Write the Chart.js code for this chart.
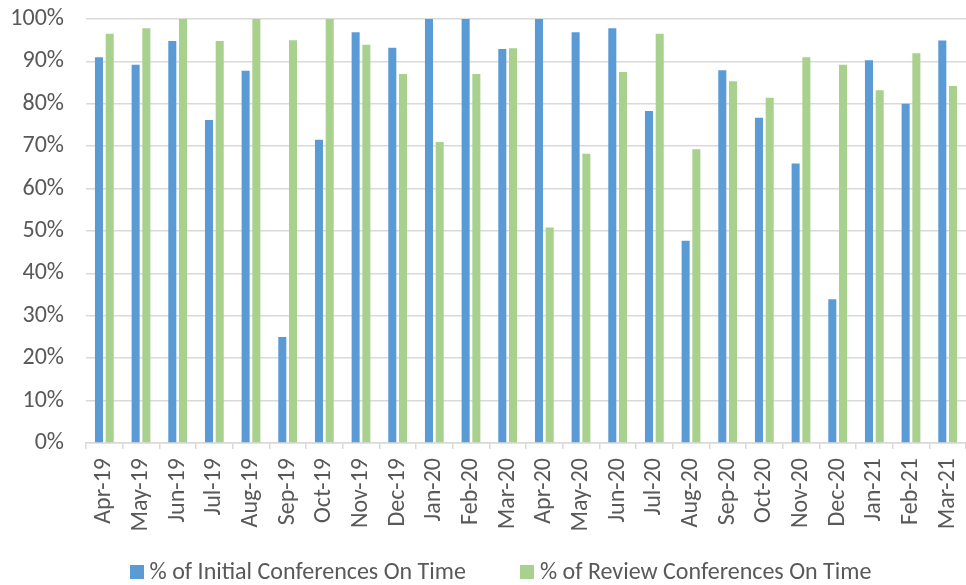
<!DOCTYPE html>
<html><head><meta charset="utf-8">
<script src="https://cdn.jsdelivr.net/npm/chart.js@4/dist/chart.umd.min.js"></script>
<style>html,body{margin:0;padding:0;background:#fff;overflow:hidden}#wrap{width:966px;height:585px}</style>
</head><body><div id="wrap"><canvas id="c" width="966" height="585"></canvas></div>
<script>
const categories = ['Apr-19','May-19','Jun-19','Jul-19','Aug-19','Sep-19','Oct-19','Nov-19','Dec-19','Jan-20','Feb-20','Mar-20','Apr-20','May-20','Jun-20','Jul-20','Aug-20','Sep-20','Oct-20','Nov-20','Dec-20','Jan-21','Feb-21','Mar-21'];
const initialOnTime = [91.0, 89.2, 94.8, 76.2, 87.8, 25.0, 71.5, 96.9, 93.2, 100, 100, 92.9, 100, 96.9, 97.8, 78.3, 47.7, 87.9, 76.7, 65.9, 33.9, 90.3, 80.0, 94.9];
const reviewOnTime = [96.5, 97.8, 100, 94.8, 100, 95.0, 100, 93.9, 87.0, 71.0, 87.0, 93.1, 50.8, 68.2, 87.5, 96.5, 69.3, 85.3, 81.4, 91.0, 89.2, 83.2, 91.9, 84.2];
const seriesNames = ['% of Initial Conferences On Time', '% of Review Conferences On Time'];
const yMin = 0, yMax = 100, yStep = 10;

const FONT = 'Carlito, Lato, sans-serif';
const FSIZE = 24;
const TEXT = '#595959';
const GRID = '#d9d9d9';

const customLegend = {
  id: 'customLegend',
  afterDraw(chart) {
    const ctx = chart.ctx;
    ctx.save();
    ctx.font = FSIZE + 'px ' + FONT;
    const items = chart.data.datasets.map(d => ({ text: d.label, color: d.backgroundColor, w: ctx.measureText(d.label).width }));
    const box = 14, gapBT = 6, gapItems = 54;
    const total = items.reduce((s, it) => s + box + gapBT + it.w, 0) + gapItems * (items.length - 1);
    let x = 500.5 - total / 2;
    const yc = 572;
    items.forEach(it => {
      ctx.fillStyle = it.color;
      ctx.fillRect(Math.round(x), yc - 7, box, box);
      x += box + gapBT;
      ctx.fillStyle = TEXT;
      ctx.textBaseline = 'middle';
      ctx.textAlign = 'left';
      ctx.fillText(it.text, x, yc + 1);
      x += it.w + gapItems;
    });
    ctx.restore();
  }
};

new Chart(document.getElementById('c'), {
  type: 'bar',
  data: {
    labels: categories,
    datasets: [
      { label: seriesNames[0], data: initialOnTime, backgroundColor: '#5B9BD5', borderWidth: 0, categoryPercentage: 0.585, barPercentage: 0.75 },
      { label: seriesNames[1], data: reviewOnTime, backgroundColor: '#A9D18E', borderWidth: 0, categoryPercentage: 0.585, barPercentage: 0.75 }
    ]
  },
  options: {
    responsive: false,
    animation: false,
    devicePixelRatio: 1,
    layout: { padding: { top: 19, right: -6, bottom: 0, left: 0 } },
    plugins: {
      legend: { display: false },
      tooltip: { enabled: false }
    },
    scales: {
      x: {
        grid: { display: true, drawOnChartArea: false, drawTicks: true, tickLength: 6, color: GRID, lineWidth: 1.5, offset: true },
        border: { display: true, color: GRID, width: 1.5 },
        ticks: { autoSkip: false, maxRotation: 90, minRotation: 90, padding: 9, color: TEXT, font: { family: FONT, size: FSIZE } },
        afterFit(scale) { scale.height = 142; scale.paddingLeft = 0; scale.paddingRight = 0; }
      },
      y: {
        min: yMin, max: yMax,
        grid: { color: GRID, lineWidth: 1.5, drawTicks: false },
        border: { display: false },
        ticks: { stepSize: yStep, padding: 22, color: TEXT, font: { family: FONT, size: FSIZE }, callback: v => v + '%' },
        afterFit(scale) { scale.width = 86; scale.paddingTop = 0; scale.paddingBottom = 0; }
      }
    }
  },
  plugins: [customLegend]
});
</script>
</body></html>
